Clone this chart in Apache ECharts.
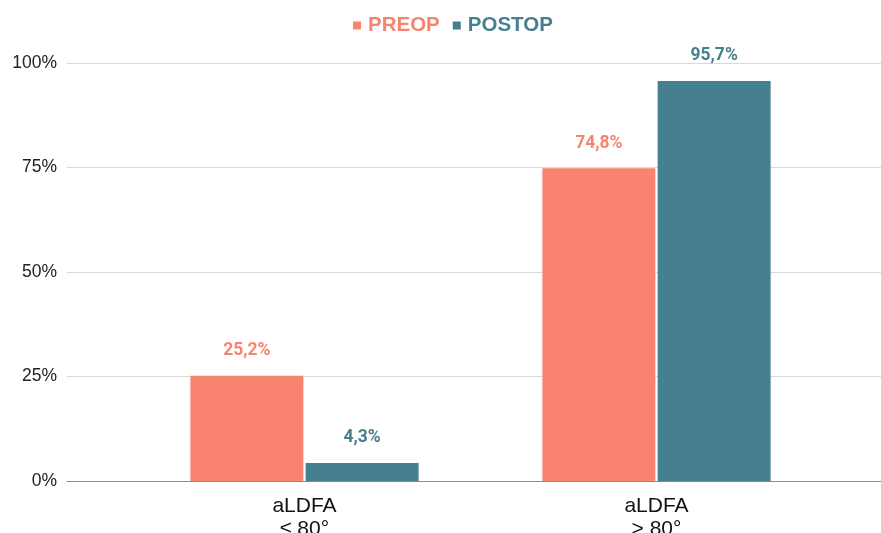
<!DOCTYPE html>
<html>
<head>
<meta charset="utf-8">
<script src="https://cdn.jsdelivr.net/npm/echarts@6/dist/echarts.min.js"></script>
<style>
  html, body { margin: 0; padding: 0; background: #fff; }
  #chart { width: 881px; height: 533px; }
</style>
</head>
<body>
<div id="chart"></div>
<script>
// Share of knees by aLDFA group, before and after surgery (%)
const categories = ['aLDFA\n≤ 80°', 'aLDFA\n> 80°'];
const seriesNames = ['PREOP', 'POSTOP'];
const preopValues = [25.2, 74.8];
const postopValues = [4.3, 95.7];
const yTicks = [0, 25, 50, 75, 100];

const colors = ['#F8836F', '#467F8D'];

const fmt = v => String(v).replace('.', ',') + '%';

const chart = echarts.init(document.getElementById('chart'), null, { renderer: 'canvas' });

const legendText = c => ({
  color: c, fontFamily: 'Liberation Sans', fontWeight: 'bold', fontSize: 20.5, padding: [0, 0, 0, 2]
});

chart.setOption({
  animation: false,
  color: colors,
  legend: {
    top: 10,
    left: 348,
    itemWidth: 8,
    itemHeight: 8,
    itemGap: 13,
    icon: 'rect',
    data: seriesNames,
    formatter: n => '{' + (n === 'PREOP' ? 'a' : 'b') + '|' + n + '}',
    textStyle: {
      fontFamily: 'Liberation Sans',
      fontWeight: 'bold',
      fontSize: 20.5,
      rich: { a: legendText(colors[0]), b: legendText(colors[1]) }
    }
  },
  grid: [
    // full-width grid: value scale, gridlines and baseline
    { left: 67, right: 0, top: 63, bottom: 52, outerBoundsMode: 'none', containLabel: false },
    // bar grid
    { left: 128.5, width: 704, top: 63, bottom: 52, outerBoundsMode: 'none', containLabel: false }
  ],
  xAxis: [
    {
      gridIndex: 0, type: 'category', data: [''],
      axisLine: { show: true, lineStyle: { color: '#8c8c8c', width: 1 } },
      axisTick: { show: false }, axisLabel: { show: false }
    },
    {
      gridIndex: 1, type: 'category', data: categories,
      axisLine: { show: false }, axisTick: { show: false },
      axisLabel: {
        margin: 14,
        fontFamily: 'Liberation Sans',
        fontSize: 21,
        lineHeight: 23,
        color: '#111'
      }
    }
  ],
  yAxis: [
    {
      gridIndex: 0, type: 'value', min: 0, max: 100, interval: 25,
      axisLine: { show: false }, axisTick: { show: false },
      splitLine: { lineStyle: { color: '#d9d9d9', width: 1 } },
      axisLabel: {
        margin: 10,
        fontFamily: 'Liberation Sans',
        fontSize: 17.5,
        color: '#222',
        formatter: v => yTicks.includes(v) ? v + '%' : ''
      }
    },
    {
      gridIndex: 1, type: 'value', min: 0, max: 100, interval: 25,
      show: false, splitLine: { show: false }
    }
  ],
  series: [
    {
      name: seriesNames[0], type: 'bar', xAxisIndex: 1, yAxisIndex: 1,
      data: preopValues, barWidth: 113, barGap: '2%',
      itemStyle: { color: colors[0] },
      label: {
        show: true, position: 'top', distance: 16,
        formatter: p => fmt(p.value),
        fontFamily: 'Roboto', fontWeight: 'bold', fontSize: 17.5, color: colors[0]
      }
    },
    {
      name: seriesNames[1], type: 'bar', xAxisIndex: 1, yAxisIndex: 1,
      data: postopValues, barWidth: 113, barGap: '2%',
      itemStyle: { color: colors[1] },
      label: {
        show: true, position: 'top', distance: 16,
        formatter: p => fmt(p.value),
        fontFamily: 'Roboto', fontWeight: 'bold', fontSize: 17.5, color: colors[1]
      }
    }
  ]
});
</script>
</body>
</html>
